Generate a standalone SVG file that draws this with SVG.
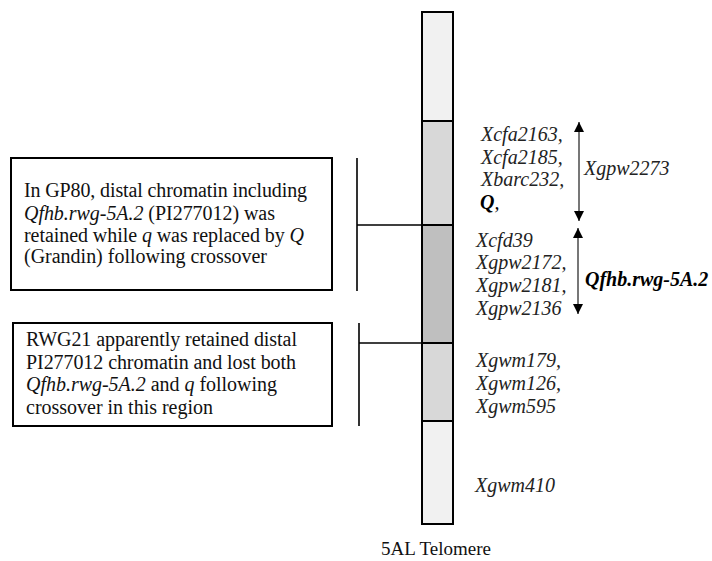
<svg xmlns="http://www.w3.org/2000/svg" width="712" height="561" viewBox="0 0 712 561">
<style>
.box{fill:#ffffff;stroke:#000;stroke-width:2}
.seg{stroke:#000;stroke-width:2}
.ln{stroke:#000;stroke-width:1.6;fill:none}
.arr{stroke:#555;stroke-width:1.6;fill:none}
.t{font-family:"Liberation Serif","Times New Roman",serif;font-size:20px;fill:#111}
.m{font-family:"Liberation Serif","Times New Roman",serif;font-size:20px;font-style:italic;fill:#222}
.b{font-weight:bold;fill:#000}
.i{font-style:italic}
</style>
<defs>
<marker id="ah" viewBox="0 0 10 10" refX="10" refY="5" markerWidth="10" markerHeight="10" markerUnits="userSpaceOnUse" orient="auto">
<path d="M0,0 L10,5 L0,10 z" fill="#000"/>
</marker>
</defs>
<rect width="712" height="561" fill="#ffffff"/>
<g id="chromosome">
<rect class="seg" x="422" y="12" width="31" height="109" fill="#f1f1f1"/>
<rect class="seg" x="422" y="121" width="31" height="104" fill="#d8d8d8"/>
<rect class="seg" x="422" y="225" width="31" height="118" fill="#bfbfbf"/>
<rect class="seg" x="422" y="343" width="31" height="78" fill="#d8d8d8"/>
<rect class="seg" x="422" y="421" width="31" height="103" fill="#f1f1f1"/>
</g>
<g id="box1">
<rect class="box" x="11" y="158" width="321" height="132"/>
<text class="t" x="24" y="197" textLength="283" lengthAdjust="spacing">In GP80, distal chromatin including</text>
<text class="t" x="24" y="219.5" textLength="251" lengthAdjust="spacing"><tspan class="i">Qfhb.rwg-5A.2</tspan> (PI277012) was</text>
<text class="t" x="24" y="241.5" textLength="280" lengthAdjust="spacing">retained while <tspan class="i">q</tspan> was replaced by <tspan class="i">Q</tspan></text>
<text class="t" x="24" y="263" textLength="243" lengthAdjust="spacing">(Grandin) following crossover</text>
</g>
<g id="box2">
<rect class="box" x="13" y="323" width="319" height="103"/>
<text class="t" x="26" y="346" textLength="271" lengthAdjust="spacing">RWG21 apparently retained distal</text>
<text class="t" x="26" y="368.5" textLength="270" lengthAdjust="spacing">PI277012 chromatin and lost both</text>
<text class="t" x="26" y="391" textLength="251" lengthAdjust="spacing"><tspan class="i">Qfhb.rwg-5A.2</tspan> and <tspan class="i">q</tspan> following</text>
<text class="t" x="26" y="413.5" textLength="187" lengthAdjust="spacing">crossover in this region</text>
</g>
<g id="markers">
<text class="m" x="481" y="141">Xcfa2163,</text>
<text class="m" x="481" y="163.5">Xcfa2185,</text>
<text class="m" x="481" y="186">Xbarc232,</text>
<text class="m b" x="480" y="208.5">Q<tspan font-weight="normal">,</tspan></text>
<text class="m" x="584" y="175">Xgpw2273</text>
<text class="m" x="476" y="246.5">Xcfd39</text>
<text class="m" x="476" y="269">Xgpw2172,</text>
<text class="m" x="476" y="292">Xgpw2181,</text>
<text class="m" x="476" y="315">Xgpw2136</text>
<text class="m b" x="585" y="286">Qfhb.rwg-5A.2</text>
<text class="m" x="476" y="367">Xgwm179,</text>
<text class="m" x="476" y="390">Xgwm126,</text>
<text class="m" x="476" y="413">Xgwm595</text>
<text class="m" x="475" y="492">Xgwm410</text>
</g>
<g id="telomere">
<text class="t" x="381" y="555" font-size="19" style="font-size:19px">5AL Telomere</text>
</g>
<g id="connectors">
<path class="ln" d="M357,158 V291 M357,225 H422"/>
<path class="ln" d="M359,323 V426 M359,343 H422"/>
<path class="arr" d="M579,131 V221" marker-end="url(#ah)"/>
<path class="arr" d="M579,131 V122" marker-end="url(#ah)"/>
<path class="arr" d="M578,300 V314" marker-end="url(#ah)"/>
<path class="arr" d="M578,300 V228" marker-end="url(#ah)"/>
</g>
</svg>
